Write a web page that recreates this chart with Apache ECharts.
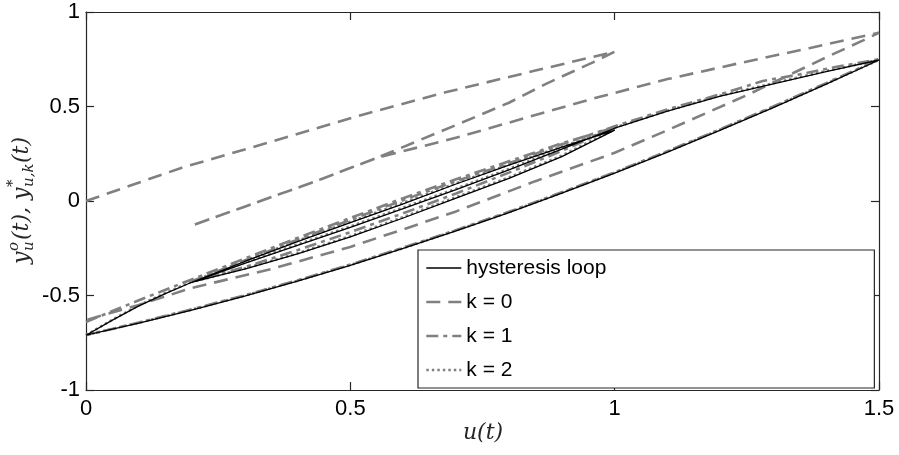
<!DOCTYPE html>
<html>
<head>
<meta charset="utf-8">
<script src="https://cdn.jsdelivr.net/npm/echarts@6/dist/echarts.min.js"></script>
<style>
html,body{margin:0;padding:0;background:#fff;}
#chart{width:899px;height:455px;}
</style>
</head>
<body>
<div id="chart"></div>
<script>
// ---- data ----
const xTicks = [0, 0.5, 1, 1.5];
const yTicks = [-1, -0.5, 0, 0.5, 1];
const seriesNames = ['hysteresis loop', 'k = 0', 'k = 1', 'k = 2'];

// hysteresis loop (true output): u 0->1->0.2->1.5->0
const hysU = [0,0.05,0.1,0.15,0.2,0.3,0.4,0.5,0.6,0.7,0.8,0.9,1,
  0.95,0.9,0.8,0.7,0.6,0.5,0.4,0.3,0.25,0.2,
  0.25,0.3,0.4,0.5,0.6,0.7,0.8,0.9,1,1.1,1.2,1.3,1.4,1.5,
  1.4,1.3,1.2,1.1,1,0.9,0.8,0.7,0.6,0.5,0.4,0.3,0.2,0.1,0];
const hysY = [-0.71,-0.63,-0.555,-0.49,-0.43,-0.32,-0.215,-0.115,-0.015,0.09,0.19,0.285,0.375,
  0.305,0.235,0.12,0.015,-0.09,-0.19,-0.28,-0.36,-0.395,-0.43,
  -0.38,-0.33,-0.235,-0.14,-0.04,0.06,0.165,0.275,0.385,0.475,0.555,0.62,0.685,0.746,
  0.618,0.494,0.375,0.259,0.148,0.042,-0.061,-0.158,-0.251,-0.34,-0.424,-0.503,-0.577,-0.646,-0.71];

// k = 0
const k0U = [0,0.18,0.34,0.53,0.68,0.85,1,
  0.96,0.87,0.8,0.707,0.55,0.43,0.3,0.2,
  0.3,0.43,0.55,0.707,0.85,0.97,1.1,1.237,1.37,1.5,
  1.47,1.4,1.25,1.1,1,0.85,0.7,0.6,0.5,0.35,0.2,0.1,0];
const k0Y = [0,0.175,0.305,0.462,0.575,0.69,0.79,
  0.735,0.62,0.52,0.41,0.228,0.1,-0.03,-0.13,
  -0.03,0.1,0.228,0.34,0.455,0.55,0.645,0.73,0.81,0.89,
  0.85,0.76,0.56,0.375,0.255,0.105,-0.055,-0.15,-0.243,-0.36,-0.46,-0.55,-0.63];

// k = 1
const k1U = [0,0.1,0.2,0.3,0.4,0.5,0.6,0.7,0.8,0.9,1,
  0.9,0.8,0.7,0.6,0.5,0.4,0.3,0.2,
  0.3,0.4,0.5,0.6,0.7,0.8,0.9,1,1.1,1.2,1.28,1.35,1.42,1.5,
  1.4,1.3,1.2,1.1,1,0.9,0.8,0.7,0.6,0.5,0.4,0.3,0.2,0.1,0];
const k1Y = [-0.64,-0.525,-0.415,-0.305,-0.195,-0.09,0.015,0.115,0.21,0.305,0.39,
  0.265,0.15,0.04,-0.065,-0.165,-0.26,-0.35,-0.425,
  -0.315,-0.205,-0.1,0.005,0.105,0.2,0.3,0.395,0.485,0.565,0.635,0.67,0.71,0.75,
  0.624,0.5,0.38,0.264,0.152,0.046,-0.057,-0.154,-0.247,-0.336,-0.42,-0.499,-0.573,-0.643,-0.71];

// k = 2
const k2U = [0,0.05,0.1,0.15,0.2,0.3,0.4,0.5,0.6,0.7,0.8,0.9,1,
  0.95,0.9,0.8,0.7,0.6,0.5,0.4,0.3,0.25,0.2,
  0.25,0.3,0.4,0.5,0.6,0.7,0.8,0.9,1,1.1,1.2,1.3,1.4,1.5,
  1.4,1.3,1.2,1.1,1,0.9,0.8,0.7,0.6,0.5,0.4,0.3,0.2,0.1,0];
const k2Y = [-0.71,-0.628,-0.552,-0.487,-0.427,-0.317,-0.21,-0.11,-0.01,0.094,0.193,0.288,0.378,
  0.31,0.24,0.125,0.02,-0.085,-0.186,-0.277,-0.357,-0.393,-0.428,
  -0.377,-0.326,-0.23,-0.135,-0.035,0.065,0.17,0.28,0.388,0.478,0.558,0.623,0.688,0.747,
  0.62,0.497,0.378,0.262,0.15,0.044,-0.059,-0.156,-0.249,-0.338,-0.422,-0.501,-0.575,-0.644,-0.709];

// ---- build ----
function zip(u, y) { return u.map((v, i) => [v, y[i]]); }
const axisColor = '#262626';
const gray = '#808080';
const sansFont = '"Liberation Sans", Arial, Helvetica, sans-serif';

const chart = echarts.init(document.getElementById('chart'), null, {renderer: 'canvas'});

const styles = {};
styles[seriesNames[0]] = {color: '#000000', width: 1.3, type: 'solid', z: 5};
styles[seriesNames[1]] = {color: gray, width: 2.6, type: [14, 8], z: 2};
styles[seriesNames[2]] = {color: gray, width: 2.6, type: [12, 5, 4, 5], z: 3};
styles[seriesNames[3]] = {color: gray, width: 2.6, type: [2.5, 3], z: 4};

function mkSeries(name, data) {
  const s = styles[name];
  return {
    name: name, type: 'line', data: data, showSymbol: false, symbol: 'none',
    xAxisIndex: 0, yAxisIndex: 0, animation: false, z: s.z,
    lineStyle: {color: s.color, width: s.width, type: s.type},
    itemStyle: {color: s.color}
  };
}

const axisCommon = {
  type: 'value',
  axisLine: {show: true, onZero: false, lineStyle: {color: axisColor, width: 1.2}},
  axisTick: {show: true, inside: true, length: 8, lineStyle: {color: axisColor, width: 1.2}},
  splitLine: {show: false}
};

const option = {
  backgroundColor: '#ffffff',
  animation: false,
  grid: {left: 86, right: 20, top: 12, bottom: 65, containLabel: false},
  xAxis: [
    Object.assign({}, axisCommon, {
      position: 'bottom', min: xTicks[0], max: xTicks[xTicks.length - 1], interval: 0.5,
      axisLabel: {show: true, color: '#000', fontSize: 22, fontFamily: sansFont, margin: 8,
        formatter: v => String(v)}
    }),
    Object.assign({}, axisCommon, {
      position: 'top', min: xTicks[0], max: xTicks[xTicks.length - 1], interval: 0.5,
      axisLabel: {show: false}
    })
  ],
  yAxis: [
    Object.assign({}, axisCommon, {
      position: 'left', min: yTicks[0], max: yTicks[yTicks.length - 1], interval: 0.5,
      axisLabel: {show: true, color: '#000', fontSize: 22, fontFamily: sansFont, margin: 6,
        formatter: v => String(v)}
    }),
    Object.assign({}, axisCommon, {
      position: 'right', min: yTicks[0], max: yTicks[yTicks.length - 1], interval: 0.5,
      axisLabel: {show: false}
    })
  ],
  legend: {
    show: true, orient: 'vertical', left: 418, top: 250,
    padding: [6, 268, 6, 7], itemGap: 10, itemWidth: 35, itemHeight: 14,
    backgroundColor: '#ffffff', borderColor: axisColor, borderWidth: 1.2, borderRadius: 0,
    textStyle: {fontSize: 21, color: '#000', fontFamily: sansFont, lineHeight: 24},
    itemStyle: {opacity: 0},
    data: seriesNames.map(n => ({
      name: n,
      itemStyle: {opacity: 0},
      lineStyle: {color: styles[n].color, width: styles[n].width, type: styles[n].type, opacity: 1}
    }))
  },
  series: [
    mkSeries(seriesNames[1], zip(k0U, k0Y)),
    mkSeries(seriesNames[2], zip(k1U, k1Y)),
    mkSeries(seriesNames[3], zip(k2U, k2Y)),
    mkSeries(seriesNames[0], zip(hysU, hysY))
  ],
  graphic: [
    {
      type: 'group', x: 22, y: 200, rotation: Math.PI / 2,
      children: [
        {type: 'text', x: -64, y: 0, style: {text: 'y', font: 'italic 22px "DejaVu Serif"', fill: '#262626', textAlign: 'left', textVerticalAlign: 'middle', align: 'left', verticalAlign: 'middle'}},
        {type: 'text', x: -51, y: -8, style: {text: 'o', font: 'italic 15px "DejaVu Serif"', fill: '#262626', textAlign: 'left', textVerticalAlign: 'middle', align: 'left', verticalAlign: 'middle'}},
        {type: 'text', x: -51, y: 7, style: {text: 'u', font: 'italic 15px "DejaVu Serif"', fill: '#262626', textAlign: 'left', textVerticalAlign: 'middle', align: 'left', verticalAlign: 'middle'}},
        {type: 'text', x: -40, y: 0, style: {text: '(t), ', font: 'italic 22px "DejaVu Serif"', fill: '#262626', textAlign: 'left', textVerticalAlign: 'middle', align: 'left', verticalAlign: 'middle'}},
        {type: 'text', x: 0, y: 0, style: {text: 'y', font: 'italic 22px "DejaVu Serif"', fill: '#262626', textAlign: 'left', textVerticalAlign: 'middle', align: 'left', verticalAlign: 'middle'}},
        {type: 'text', x: 13, y: -9, style: {text: '*', font: '15px "DejaVu Serif"', fill: '#262626', textAlign: 'left', textVerticalAlign: 'middle', align: 'left', verticalAlign: 'middle'}},
        {type: 'text', x: 13, y: 7, style: {text: 'u,k', font: 'italic 15px "DejaVu Serif"', fill: '#262626', textAlign: 'left', textVerticalAlign: 'middle', align: 'left', verticalAlign: 'middle'}},
        {type: 'text', x: 37, y: 0, style: {text: '(t)', font: 'italic 22px "DejaVu Serif"', fill: '#262626', textAlign: 'left', textVerticalAlign: 'middle', align: 'left', verticalAlign: 'middle'}}
      ]
    },
    {
      type: 'text', x: 483, y: 433,
      style: {text: 'u(t)', font: 'italic 22px "DejaVu Serif"', fill: '#262626', textAlign: 'center', textVerticalAlign: 'middle', align: 'center', verticalAlign: 'middle'}
    }
  ]
};
chart.setOption(option);
</script>
</body>
</html>
